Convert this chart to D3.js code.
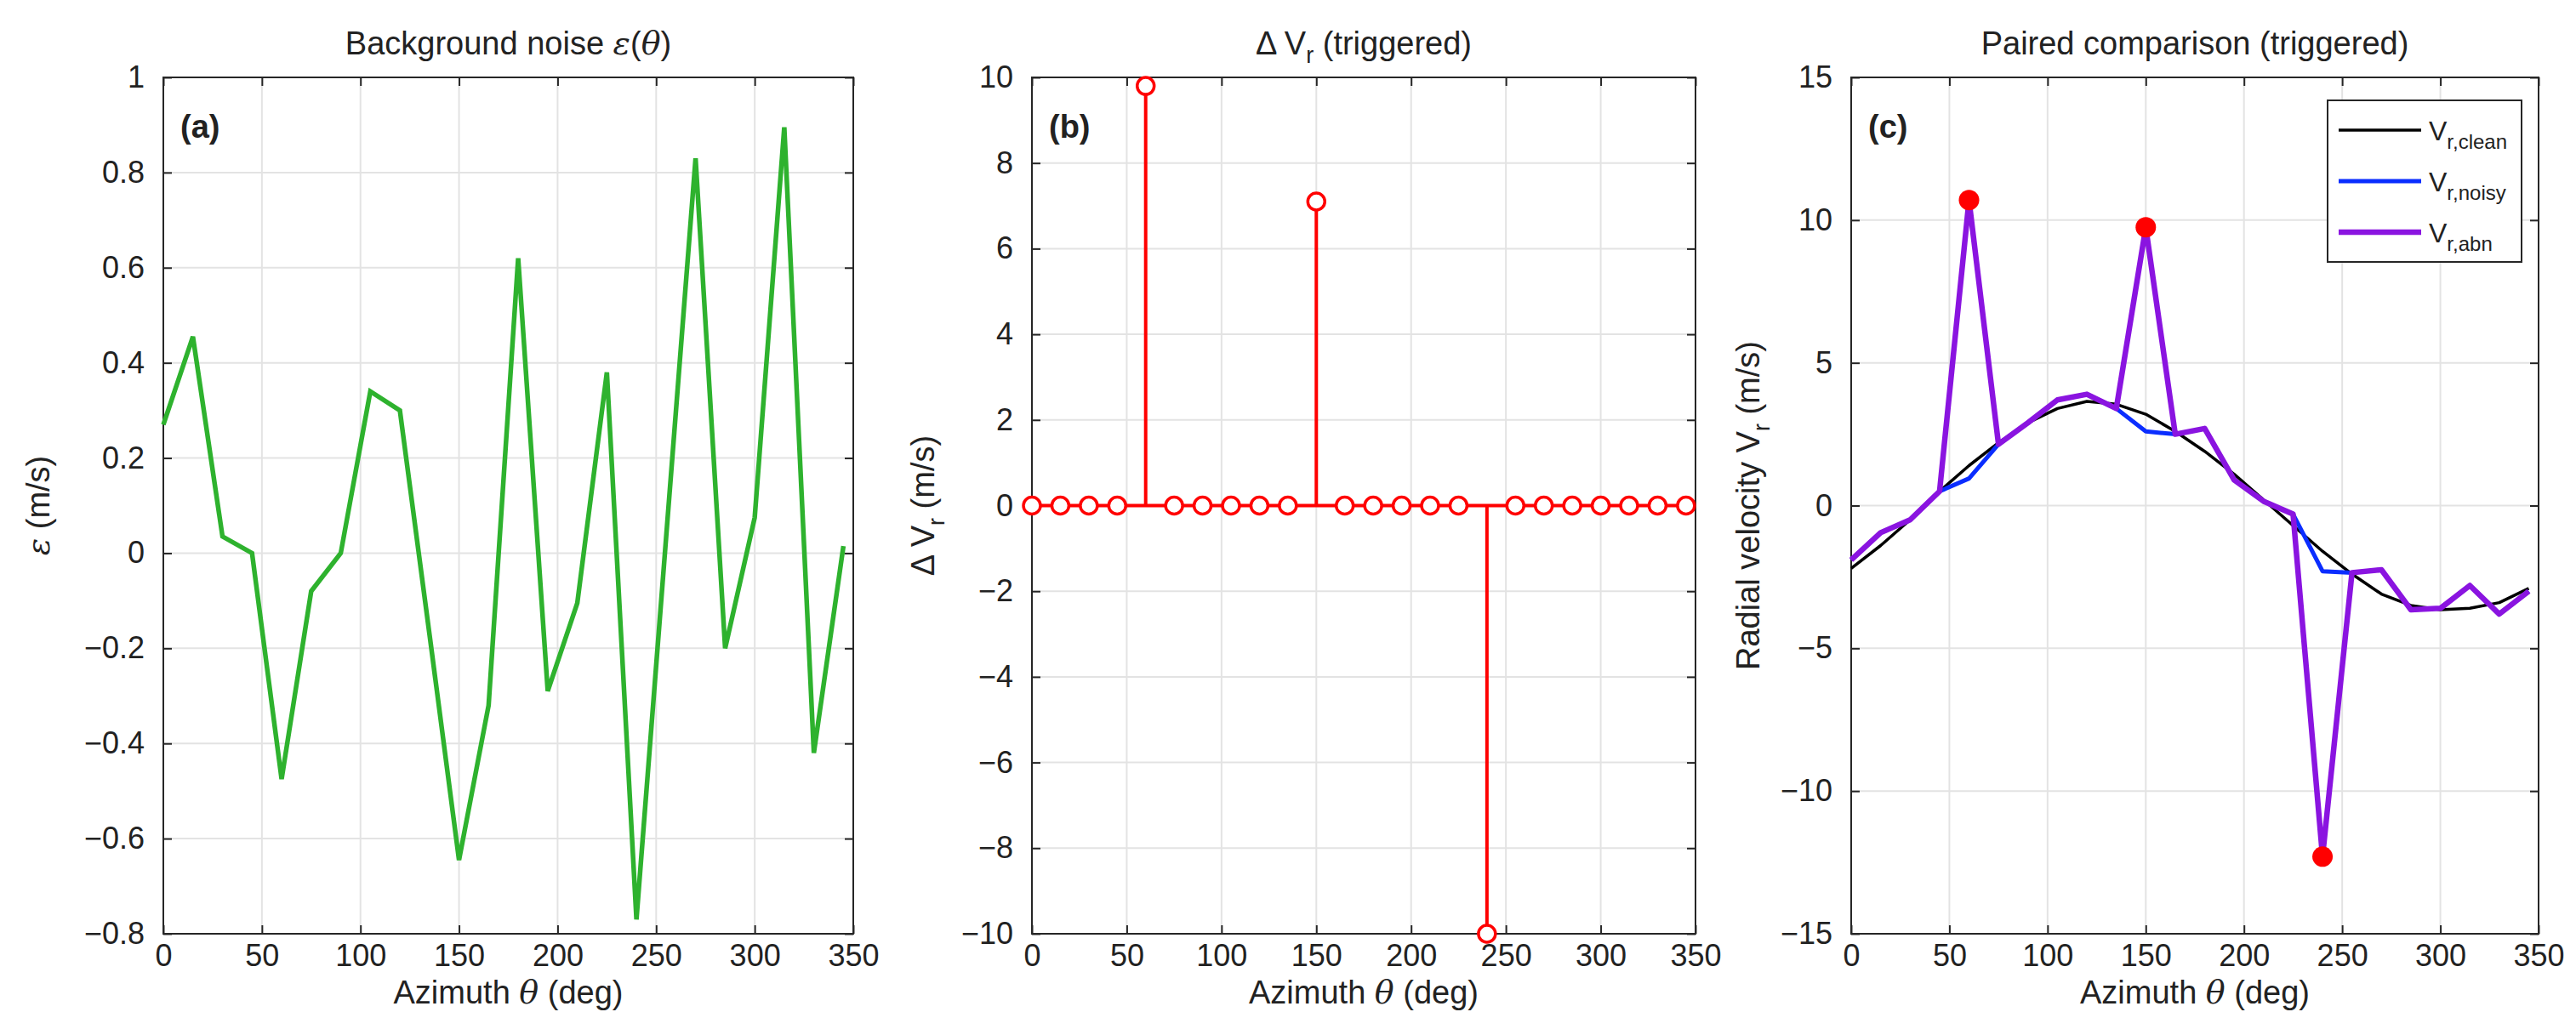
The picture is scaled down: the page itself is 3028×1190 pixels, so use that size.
<!DOCTYPE html>
<html>
<head>
<meta charset="utf-8">
<script src="https://cdn.jsdelivr.net/npm/d3@7"></script>
<style>
  body { margin: 0; background: #fff; }
  text { font-family: "Liberation Sans", Arial, sans-serif; fill: #222; }
</style>
</head>
<body>
<svg width="3028" height="1190"></svg>
<script>
const azimuth = d3.range(0, 360, 15);
const noise = [0.27, 0.455, 0.035, 0, -0.475, -0.08, 0, 0.34, 0.3, -0.17, -0.645, -0.32,
  0.62, -0.29, -0.105, 0.38, -0.77, 0.03, 0.83, -0.2, 0.075, 0.895, -0.42, 0.015];
const deltaVr = [0, 0, 0, 0, 9.8, 0, 0, 0, 0, 0, 7.1, 0, 0, 0, 0, 0, -10, 0, 0, 0, 0, 0, 0, 0];
const vrClean = [-2.2, -1.4, -0.5, 0.5, 1.4, 2.2, 2.9, 3.4, 3.65, 3.55, 3.2, 2.6,
  1.9, 1.1, 0.2, -0.7, -1.6, -2.4, -3.1, -3.5, -3.65, -3.6, -3.4, -2.9];
const vrNoisy = [-1.9, -0.95, -0.5, 0.5, 0.95, 2.15, 2.9, 3.7, 3.9, 3.4, 2.6, 2.5,
  2.7, 0.9, 0.15, -0.3, -2.3, -2.35, -2.25, -3.65, -3.6, -2.8, -3.8, -3.0];
const vrAbn = [-1.9, -0.95, -0.5, 0.5, 10.7, 2.15, 2.9, 3.7, 3.9, 3.4, 9.75, 2.5,
  2.7, 0.9, 0.15, -0.3, -12.3, -2.35, -2.25, -3.65, -3.6, -2.8, -3.8, -3.0];
const triggered = [60, 150, 240];

const xTicks = d3.range(0, 351, 50);
const yTicksA = d3.range(-0.8, 1.01, 0.2).map(v => +v.toFixed(1));
const yTicksB = d3.range(-10, 11, 2);
const yTicksC = d3.range(-15, 16, 5);

const plotTop = 91, plotBottom = 1098;
const svg = d3.select('svg');
const fmt = d3.format('~g');
const serif = t => `<tspan font-style="italic" font-family="DejaVu Serif">${t}</tspan>`;

function panel(x0, x1, yDomain, yTicks) {
  const g = svg.append('g');
  const x = d3.scaleLinear().domain([0, 350]).range([x0, x1]);
  const y = d3.scaleLinear().domain(yDomain).range([plotBottom, plotTop]);
  const grid = g.append('g').attr('stroke', '#e3e3e3').attr('stroke-width', 2);
  xTicks.forEach(t => grid.append('line').attr('x1', x(t)).attr('x2', x(t)).attr('y1', plotTop).attr('y2', plotBottom));
  yTicks.forEach(t => grid.append('line').attr('y1', y(t)).attr('y2', y(t)).attr('x1', x0).attr('x2', x1));
  const style = sel => {
    sel.select('.domain').remove();
    sel.selectAll('line').attr('stroke', '#262626').attr('stroke-width', 2);
    sel.selectAll('text').style('font-size', '36px').attr('fill', '#262626');
  };
  g.append('g').attr('transform', `translate(0,${plotBottom})`)
    .call(d3.axisBottom(x).tickValues(xTicks).tickFormat(fmt).tickSize(-10).tickPadding(12)).call(style);
  g.append('g').attr('transform', `translate(0,${plotTop})`)
    .call(d3.axisTop(x).tickValues(xTicks).tickFormat('').tickSize(-10)).call(style);
  g.append('g').attr('transform', `translate(${x0},0)`)
    .call(d3.axisLeft(y).tickValues(yTicks).tickFormat(fmt).tickSize(-10).tickPadding(22)).call(style);
  g.append('g').attr('transform', `translate(${x1},0)`)
    .call(d3.axisRight(y).tickValues(yTicks).tickFormat('').tickSize(-10)).call(style);
  g.append('rect').attr('x', x0).attr('y', plotTop).attr('width', x1 - x0).attr('height', plotBottom - plotTop)
    .attr('fill', 'none').attr('stroke', '#262626').attr('stroke-width', 2);
  g.append('text').attr('x', (x0 + x1) / 2).attr('y', 1180).attr('text-anchor', 'middle')
    .style('font-size', '38px').html(`Azimuth ${serif('θ')} (deg)`);
  const plot = g.append('g');
  return { g, x, y, plot };
}

function title(p, x0, x1, html) {
  p.g.append('text').attr('x', (x0 + x1) / 2).attr('y', 64).attr('text-anchor', 'middle')
    .style('font-size', '38px').attr('fill', '#111').html(html);
}
function ylabel(p, xc, html) {
  p.g.append('text').attr('transform', `translate(${xc},${(plotTop + plotBottom) / 2}) rotate(-90)`)
    .attr('text-anchor', 'middle').style('font-size', '38px').html(html);
}
function tag(p, x0, s) {
  p.g.append('text').attr('x', x0 + 20).attr('y', 162).style('font-size', '38px')
    .style('font-weight', 'bold').attr('fill', '#111').text(s);
}

// (a)
const A = panel(192, 1003, [-0.8, 1], yTicksA);
title(A, 192, 1003, `Background noise ${serif('ε')}(${serif('θ')})`);
ylabel(A, 58, `${serif('ε')} (m/s)`);
tag(A, 192, '(a)');
A.plot.append('path').datum(noise)
  .attr('d', d3.line().x((d, i) => A.x(azimuth[i])).y(d => A.y(d)))
  .attr('fill', 'none').attr('stroke', '#2eb22e').attr('stroke-width', 5.5);

// (b)
const B = panel(1213, 1993, [-10, 10], yTicksB);
title(B, 1213, 1993, 'Δ V<tspan dy="10" font-size="27px">r</tspan><tspan dy="-10"> (triggered)</tspan>');
ylabel(B, 1098, 'Δ V<tspan dy="12" font-size="27px">r</tspan><tspan dy="-12"> (m/s)</tspan>');
tag(B, 1213, '(b)');
B.plot.append('line').attr('x1', B.x(0)).attr('x2', B.x(350)).attr('y1', B.y(0)).attr('y2', B.y(0))
  .attr('stroke', '#ff0000').attr('stroke-width', 4);
B.plot.selectAll('.stem').data(deltaVr).enter().append('line')
  .attr('x1', (d, i) => B.x(azimuth[i])).attr('x2', (d, i) => B.x(azimuth[i]))
  .attr('y1', B.y(0)).attr('y2', d => B.y(d)).attr('stroke', '#ff0000').attr('stroke-width', 4);
B.plot.selectAll('.mk').data(deltaVr).enter().append('circle')
  .attr('cx', (d, i) => B.x(azimuth[i])).attr('cy', d => B.y(d)).attr('r', 10)
  .attr('fill', '#fff').attr('stroke', '#ff0000').attr('stroke-width', 3.5);

// (c)
const C = panel(2176, 2984, [-15, 15], yTicksC);
title(C, 2176, 2984, 'Paired comparison (triggered)');
ylabel(C, 2068, 'Radial velocity V<tspan dy="12" font-size="27px">r</tspan><tspan dy="-12"> (m/s)</tspan>');
tag(C, 2176, '(c)');
const series = [
  { name: 'clean', values: vrClean, color: '#000000', w: 3.5 },
  { name: 'noisy', values: vrNoisy, color: '#0a2dff', w: 5 },
  { name: 'abn', values: vrAbn, color: '#8a14e0', w: 6.5 }
];
series.forEach(s => {
  C.plot.append('path').datum(s.values)
    .attr('d', d3.line().x((d, i) => C.x(azimuth[i])).y(d => C.y(d)))
    .attr('fill', 'none').attr('stroke', s.color).attr('stroke-width', s.w).attr('stroke-linejoin', 'round');
});
C.plot.selectAll('.dot').data(triggered).enter().append('circle')
  .attr('cx', d => C.x(d)).attr('cy', d => C.y(vrAbn[azimuth.indexOf(d)])).attr('r', 12)
  .attr('fill', '#ff0000');

const leg = C.g.append('g');
leg.append('rect').attr('x', 2736).attr('y', 118).attr('width', 228).attr('height', 190)
  .attr('fill', '#fff').attr('stroke', '#262626').attr('stroke-width', 2);
series.forEach((s, i) => {
  const yy = 153 + i * 60;
  leg.append('line').attr('x1', 2749).attr('x2', 2846).attr('y1', yy).attr('y2', yy)
    .attr('stroke', s.color).attr('stroke-width', s.w);
  leg.append('text').attr('x', 2855).attr('y', yy + 12).style('font-size', '32px')
    .html(`V<tspan dy="10" font-size="24px">r,${s.name}</tspan>`);
});
</script>
</body>
</html>
